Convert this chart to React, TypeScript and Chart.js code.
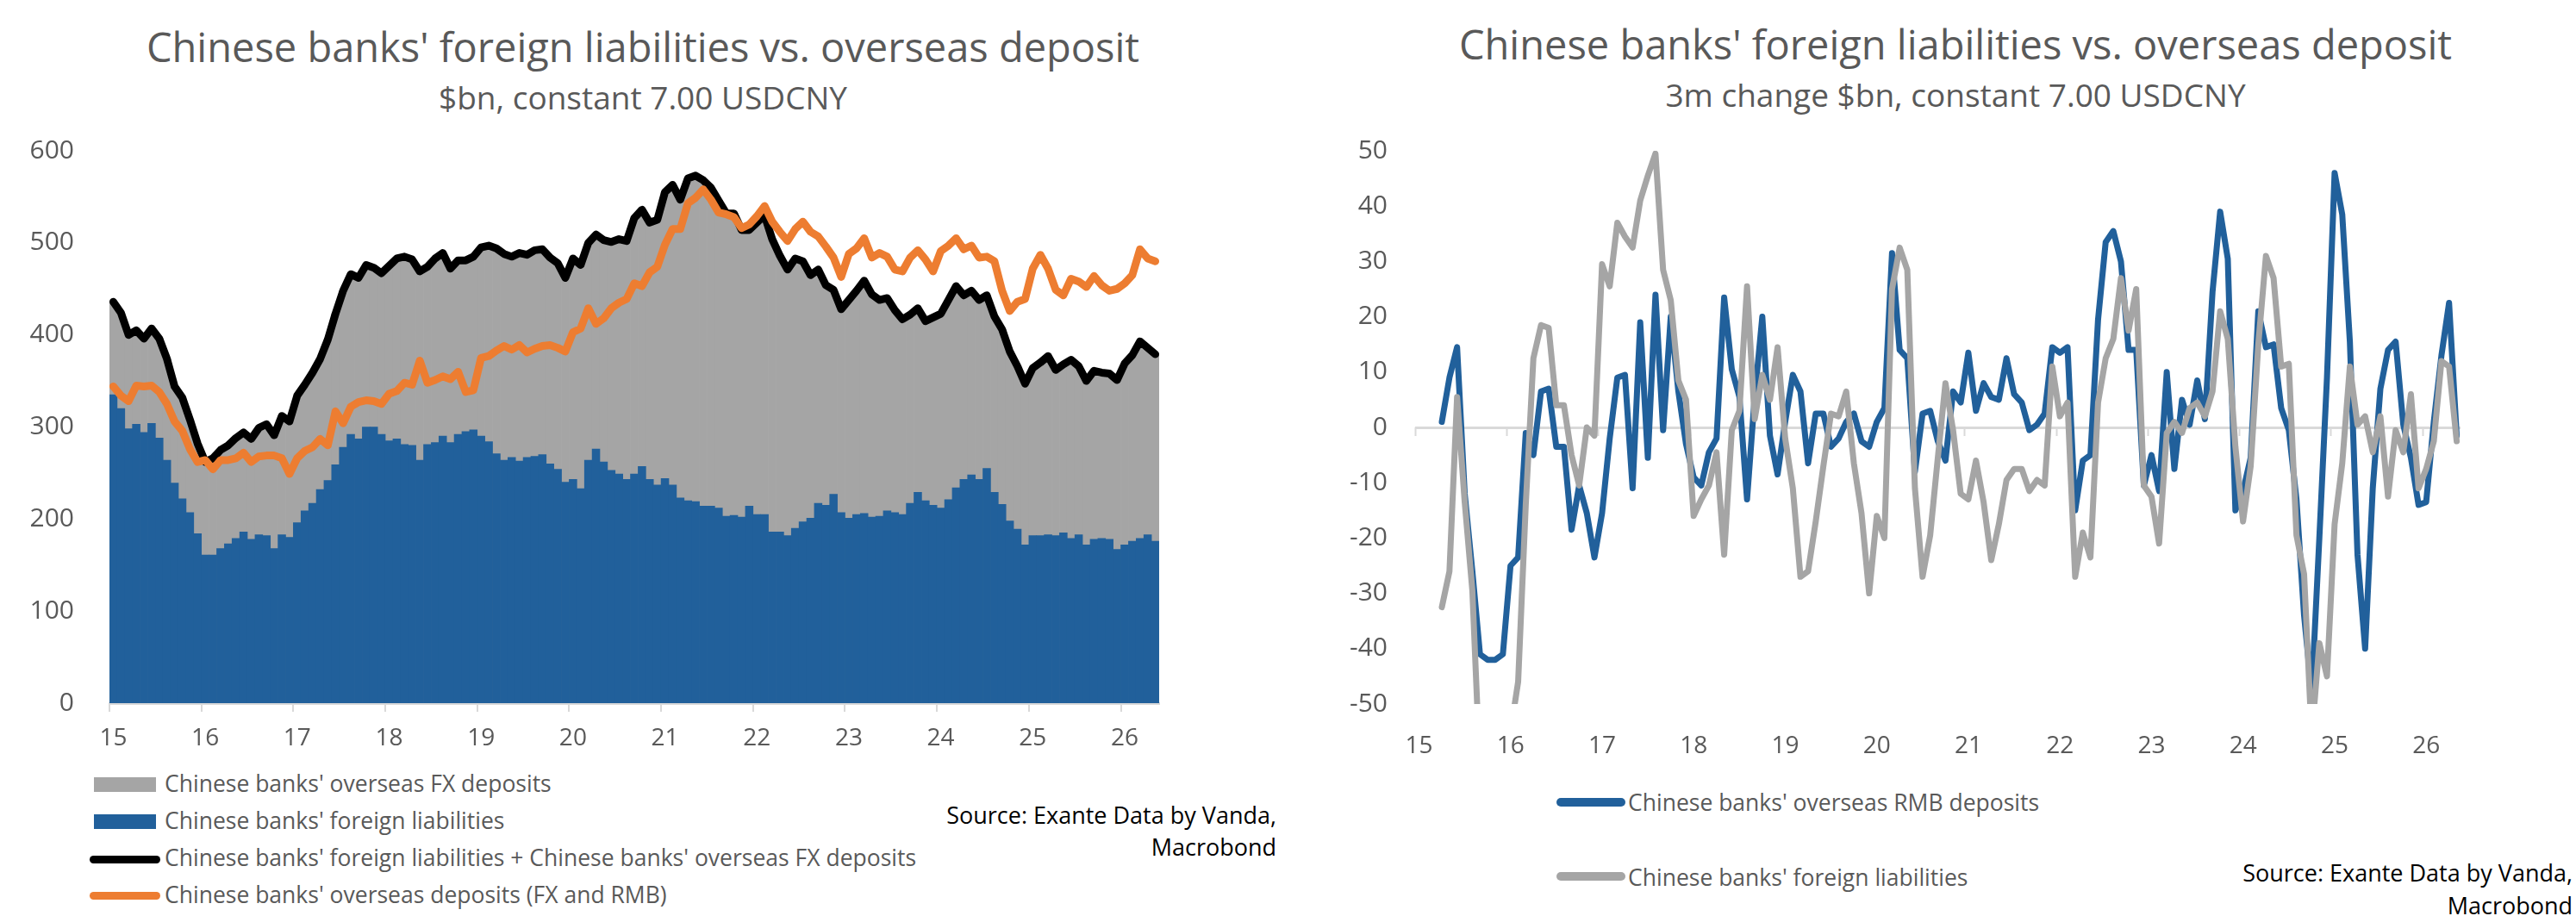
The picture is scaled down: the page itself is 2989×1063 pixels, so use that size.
import { useEffect, useRef } from 'react';
import type { CSSProperties, ReactNode } from 'react';
import { Chart, registerables } from 'chart.js';
import type { Plugin } from 'chart.js';

Chart.register(...registerables);

const W = 2989;
const H = 1063;
const FONT = '"Open Sans", "Noto Sans", sans-serif';
const TEXT = '#595959';
const BLUE = '#21609B';
const GREY = '#A5A5A5';
const ORANGE = '#ED7D31';
const AXIS = '#D9D9D9';

// monthly, Jan 2015 .. May 2026
const MONTHS: string[] = [];
for (let y = 2015; y <= 2026; y++) {
  for (let m = 1; m <= 12; m++) {
    if (y === 2026 && m > 5) break;
    MONTHS.push(`${y}-${String(m).padStart(2, '0')}`);
  }
}

// left chart, $bn
const FOREIGN_LIAB = [
  335, 320, 298, 303, 294, 304, 288, 264, 239, 222, 207, 184,
  161, 161, 168, 173, 179, 186, 178, 183, 182, 168, 183, 180,
  196, 209, 217, 232, 242, 259, 278, 292, 287, 300, 300, 292,
  285, 287, 281, 280, 264, 281, 283, 290, 283, 292, 295, 297,
  290, 284, 271, 264, 267, 263, 267, 268, 270, 260, 254, 240,
  243, 233, 264, 276, 262, 253, 249, 243, 249, 257, 243, 237,
  244, 237, 223, 220, 219, 214, 214, 212, 203, 204, 202, 214,
  205, 205, 186, 186, 182, 190, 197, 201, 217, 215, 227, 207,
  201, 205, 206, 202, 203, 209, 207, 205, 217, 229, 220, 215,
  212, 221, 234, 243, 248, 243, 255, 229, 216, 198, 189, 172,
  182, 182, 183, 182, 185, 179, 183, 172, 178, 179, 178, 167,
  172, 176, 179, 183, 176,
];

// foreign liabilities + overseas FX deposits (top of the grey bars)
const LIAB_PLUS_FX = [
  436, 424, 400, 405, 396, 407, 396, 374, 344, 332, 308, 282,
  262, 266, 275, 280, 288, 294, 287, 299, 303, 291, 312, 306,
  334, 346, 359, 374, 395, 423, 448, 466, 462, 476, 473, 467,
  475, 483, 485, 482, 469, 474, 483, 489, 472, 481, 481, 485,
  495, 497, 494, 488, 485, 489, 487, 492, 493, 484, 478, 462,
  483, 476, 500, 509, 503, 501, 504, 502, 527, 536, 522, 525,
  555, 563, 547, 570, 573, 568, 560, 546, 532, 532, 514, 514,
  522, 530, 504, 486, 471, 483, 480, 465, 471, 454, 449, 428,
  438, 448, 459, 444, 438, 440, 427, 417, 422, 429, 415, 419,
  423, 438, 453, 443, 448, 438, 443, 420, 406, 382, 366, 347,
  364, 370, 377, 362, 368, 373, 366, 350, 361, 359, 358, 351,
  369, 378, 393, 386, 379,
];

const OVERSEAS_DEPOSITS = [
  344, 334, 328, 345, 344, 345, 338, 325, 306, 296, 276, 262,
  264, 254, 264, 264, 266, 272, 262, 268, 269, 269, 266, 249,
  266, 274, 278, 287, 280, 317, 304, 322, 327, 329, 328, 325,
  336, 339, 348, 346, 372, 348, 351, 355, 352, 360, 338, 340,
  375, 377, 383, 388, 384, 389, 381, 385, 388, 389, 386, 382,
  403, 407, 429, 412, 418, 429, 435, 439, 456, 453, 468, 474,
  498, 515, 515, 543, 549, 558, 547, 533, 531, 528, 516, 520,
  529, 540, 523, 512, 502, 515, 523, 512, 507, 496, 484, 463,
  488, 494, 505, 484, 489, 485, 471, 469, 484, 492, 482, 469,
  491, 497, 505, 493, 497, 484, 485, 480, 448, 426, 436, 439,
  472, 487, 472, 449, 443, 461, 458, 452, 464, 454, 448, 450,
  456, 465, 493, 483, 480,
];

// right chart, 3m change $bn
const RMB_DEPOSITS_3M = [
  null, null, null, 1, 9, 14.5, -12, -26, -41, -42, -42, -41,
  -25, -23.5, -1, -5, 6.5, 7, -3.5, -3.5, -18.5, -10.5, -15.5, -23.5,
  -15.5, -2, 9, 9.5, -11, 19, -5.5, 24, -0.5, 20, 6.5, -3,
  -9, -10.5, -4.5, -2, 23.5, 10.5, 5.5, -13, 5.5, 20, -1.5, -8.5,
  1, 9.5, 6.5, -6.5, 2.5, 2.5, -3.5, -2, 1, 2.5, -2.5, -3.5,
  1, 3.5, 31.5, 14, 12.5, -8, 2.5, 3, -2.5, -6, 6.5, 4.5,
  13.5, 3, 8, 5.5, 5, 12.5, 6, 4.5, -0.5, 0.5, 2.5, 14.5,
  13.5, 14.5, -15, -6, -5, 19.5, 33.5, 35.5, 30, 14, 14, -10.5,
  -5, -11.5, 10, -7.5, 5, 0.5, 8.5, 1.5, 24.5, 39, 30.5, -15,
  -11.5, -5.5, 21, 14.5, 15, 3.5, -0.5, -13, -34, -48, -20, 9,
  46, 38.5, 15.5, -23, -40, -11, 7, 14, 15.5, 0.5, -5.5, -14,
  -13.5, 1, 13, 22.5, -1.5,
];

const FOREIGN_LIAB_3M = [
  null, null, null, -32.5, -26, 5.5, -13.5, -29.5, -62, -72, -75, -68,
  -55, -46, -14, 12.5, 18.5, 18, 4, 4, -5, -10.5, 0, -1.5,
  29.5, 25.5, 37, 34.5, 32.5, 41, 45.5, 49.5, 28.5, 23, 8.5, 5,
  -16, -13, -10.5, -4.5, -23, -0.5, 3, 25.5, 1.5, 9.5, 5, 14.5,
  -2, -11, -27, -26, -17, -7, 2.5, 2, 6.5, -6.5, -15.5, -30,
  -16, -20, 25, 32.5, 28.5, -11, -27, -19.5, -5.5, 8, -0.5, -12,
  -13, -6, -13.5, -24, -17.5, -9.5, -7.5, -7.5, -11.5, -9.5, -10.5, 11,
  2, 4.5, -27, -19, -23.5, 4.5, 12.5, 16, 27, 17.5, 25, -10.5,
  -12.5, -21, -1, 1, -1, 3.5, 4.5, 2, 6.5, 21, 16, -3.5,
  -17, -7, 15, 31, 27, 11, 11.5, -19.5, -26.5, -56, -39, -45,
  -17.5, -6.5, 11, 0.5, 2, -4.5, 2, -12.5, -0.5, -4.5, 6, -11,
  -7.5, -2.5, 12, 11, -2.5,
];

const yearLabel = (i: number) => (MONTHS[i]?.endsWith('-01') ? MONTHS[i].slice(2, 4) : '');
const isJan = (i: number) => !!MONTHS[i]?.endsWith('-01');

const xFont = { family: FONT, size: 28 };
const yFont = { family: FONT, size: 30 };

// fixed axis sizes so the plot area lands where the original has it
const fixWidth = (w: number) => (s: any) => {
  s.width = w;
  s.paddingTop = 0;
  s.paddingBottom = 0;
};

function LevelsChart() {
  const canvasRef = useRef<HTMLCanvasElement>(null);

  useEffect(() => {
    if (!canvasRef.current) return;
    Chart.getChart(canvasRef.current)?.destroy();

    const line = { type: 'line' as const, pointRadius: 0, tension: 0, borderWidth: 9, borderJoinStyle: 'round' as const, borderCapStyle: 'round' as const };
    const bar = { type: 'bar' as const, grouped: false, barPercentage: 1, categoryPercentage: 1, borderWidth: 0 };

    const chart = new Chart(canvasRef.current, {
      type: 'bar',
      data: {
        labels: MONTHS,
        datasets: [
          { ...line, label: "Chinese banks' overseas deposits (FX and RMB)", data: OVERSEAS_DEPOSITS, borderColor: ORANGE, order: 0 },
          { ...line, label: "Chinese banks' foreign liabilities + Chinese banks' overseas FX deposits", data: LIAB_PLUS_FX, borderColor: '#000000', order: 1 },
          { ...bar, label: "Chinese banks' foreign liabilities", data: FOREIGN_LIAB, backgroundColor: BLUE, order: 2 },
          { ...bar, label: "Chinese banks' overseas FX deposits", data: LIAB_PLUS_FX, backgroundColor: GREY, order: 3 },
        ] as any,
      },
      options: {
        animation: false,
        responsive: true,
        maintainAspectRatio: false,
        layout: { padding: { top: 25, right: 25, left: 0, bottom: 0 } },
        plugins: { legend: { display: false }, tooltip: { enabled: false } },
        scales: {
          x: {
            offset: true,
            ticks: { autoSkip: false, maxRotation: 0, minRotation: 0, color: TEXT, font: xFont, padding: 14, callback: (_v, i) => yearLabel(i) },
            grid: {
              offset: true,
              drawOnChartArea: false,
              drawTicks: true,
              tickLength: 10,
              lineWidth: 2,
              color: (c: any) => (typeof c.index === 'number' && isJan(c.index) ? AXIS : 'rgba(0,0,0,0)'),
            },
            border: { display: true, color: AXIS, width: 3 },
            afterFit: (s: any) => { s.height = 74; },
          },
          y: {
            min: 0,
            max: 600,
            ticks: { stepSize: 100, color: TEXT, font: yFont, padding: 33 },
            grid: { display: false },
            border: { display: false },
            afterFit: fixWidth(127),
          },
        },
      },
    });

    return () => chart.destroy();
  }, []);

  return <canvas ref={canvasRef} />;
}

const zeroLineTicks: Plugin<'line'> = {
  id: 'zeroLineTicks',
  beforeDatasetsDraw(chart) {
    const { ctx } = chart;
    const x = chart.scales.x;
    const y0 = chart.scales.y.getPixelForValue(0);
    const half = (x.getPixelForValue(1) - x.getPixelForValue(0)) / 2;
    ctx.save();
    ctx.strokeStyle = AXIS;
    ctx.lineWidth = 2;
    MONTHS.forEach((_m, i) => {
      if (!isJan(i)) return;
      const px = Math.round(x.getPixelForValue(i) - half) + 0.5;
      ctx.beginPath();
      ctx.moveTo(px, y0);
      ctx.lineTo(px, y0 + 10);
      ctx.stroke();
    });
    ctx.restore();
  },
};

function ChangeChart() {
  const canvasRef = useRef<HTMLCanvasElement>(null);

  useEffect(() => {
    if (!canvasRef.current) return;
    Chart.getChart(canvasRef.current)?.destroy();

    const line = { pointRadius: 0, tension: 0, borderWidth: 7, borderJoinStyle: 'round' as const, borderCapStyle: 'round' as const };

    const chart = new Chart(canvasRef.current, {
      type: 'line',
      data: {
        labels: MONTHS,
        datasets: [
          { ...line, label: "Chinese banks' overseas RMB deposits", data: RMB_DEPOSITS_3M, borderColor: BLUE, order: 1 },
          { ...line, label: "Chinese banks' foreign liabilities", data: FOREIGN_LIAB_3M, borderColor: GREY, order: 0 },
        ],
      },
      options: {
        animation: false,
        responsive: true,
        maintainAspectRatio: false,
        layout: { padding: { top: 25, right: 45, left: 0, bottom: 0 } },
        plugins: { legend: { display: false }, tooltip: { enabled: false } },
        scales: {
          x: {
            offset: true,
            ticks: { autoSkip: false, maxRotation: 0, minRotation: 0, color: TEXT, font: xFont, padding: 24, callback: (_v, i) => yearLabel(i) },
            grid: { display: false },
            border: { display: false },
            afterFit: (s: any) => { s.height = 73; },
          },
          y: {
            min: -50,
            max: 50,
            ticks: { stepSize: 10, color: TEXT, font: yFont, padding: 32 },
            grid: {
              drawTicks: false,
              lineWidth: 3,
              color: (c: any) => (c.tick && c.tick.value === 0 ? AXIS : 'rgba(0,0,0,0)'),
            },
            border: { display: false },
            afterFit: fixWidth(142),
          },
        },
      },
      plugins: [zeroLineTicks],
    });

    return () => chart.destroy();
  }, []);

  return <canvas ref={canvasRef} />;
}

function Txt({ x, y, size, color = TEXT, align = 'left', children }: { x: number; y: number; size: number; color?: string; align?: 'left' | 'center' | 'right'; children: ReactNode }) {
  const style: CSSProperties = {
    position: 'absolute',
    top: y,
    fontFamily: FONT,
    fontSize: size,
    lineHeight: 1,
    color,
    whiteSpace: 'nowrap',
  };
  if (align === 'left') {
    style.left = x;
    style.transform = 'translateY(-50%)';
  } else if (align === 'center') {
    style.left = x;
    style.transform = 'translate(-50%, -50%)';
  } else {
    style.right = W - x;
    style.transform = 'translateY(-50%)';
  }
  return <div style={style}>{children}</div>;
}

function Swatch({ x, y, w, h, color, round }: { x: number; y: number; w: number; h: number; color: string; round?: boolean }) {
  return (
    <div
      style={{ position: 'absolute', left: x, top: y - h / 2, width: w, height: h, background: color, borderRadius: round ? h / 2 : 0 }}
    />
  );
}

export default function App() {
  return (
    <div style={{ position: 'absolute', left: 0, top: 0, width: W, height: H, overflow: 'hidden', background: '#fff' }}>
      {/* left panel */}
      <Txt x={746} y={54} size={47} align="center">Chinese banks' foreign liabilities vs. overseas deposit</Txt>
      <Txt x={746} y={112} size={37} align="center">$bn, constant 7.00 USDCNY</Txt>
      <div style={{ position: 'absolute', left: 0, top: 150, width: 1370, height: 740 }}>
        <LevelsChart />
      </div>
      <Swatch x={109} y={910} w={72} h={17} color={GREY} />
      <Txt x={191} y={909} size={26.5}>Chinese banks' overseas FX deposits</Txt>
      <Swatch x={109} y={953} w={72} h={17} color={BLUE} />
      <Txt x={191} y={952} size={26.5}>Chinese banks' foreign liabilities</Txt>
      <Swatch x={104} y={997} w={82} h={9} color="#000000" round />
      <Txt x={191} y={995} size={26.5}>Chinese banks' foreign liabilities + Chinese banks' overseas FX deposits</Txt>
      <Swatch x={104} y={1039} w={82} h={9} color={ORANGE} round />
      <Txt x={191} y={1038} size={26.5}>Chinese banks' overseas deposits (FX and RMB)</Txt>
      <Txt x={1481} y={945} size={27} color="#000000" align="right">Source: Exante Data by Vanda,</Txt>
      <Txt x={1481} y={982} size={27} color="#000000" align="right">Macrobond</Txt>

      {/* right panel */}
      <Txt x={2269} y={51} size={47} align="center">Chinese banks' foreign liabilities vs. overseas deposit</Txt>
      <Txt x={2269} y={109} size={37} align="center">3m change $bn, constant 7.00 USDCNY</Txt>
      <div style={{ position: 'absolute', left: 1500, top: 150, width: 1400, height: 740 }}>
        <ChangeChart />
      </div>
      <Swatch x={1806} y={931} w={80} h={10} color={BLUE} round />
      <Txt x={1889} y={931} size={26.5}>Chinese banks' overseas RMB deposits</Txt>
      <Swatch x={1806} y={1017} w={80} h={10} color={GREY} round />
      <Txt x={1889} y={1018} size={26.5}>Chinese banks' foreign liabilities</Txt>
      <Txt x={2985} y={1012} size={27} color="#000000" align="right">Source: Exante Data by Vanda,</Txt>
      <Txt x={2985} y={1050} size={27} color="#000000" align="right">Macrobond</Txt>
    </div>
  );
}
